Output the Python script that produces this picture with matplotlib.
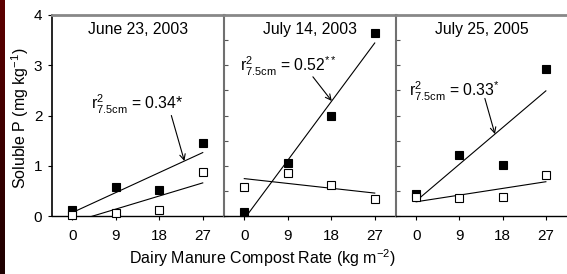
import numpy as np
import matplotlib
matplotlib.use("Agg")
import matplotlib.pyplot as plt
from matplotlib.ticker import MultipleLocator
from matplotlib.colors import LinearSegmentedColormap

plt.rcParams['font.family'] = ['Liberation Sans', 'DejaVu Sans']
plt.rcParams['mathtext.fontset'] = 'custom'
plt.rcParams['mathtext.rm'] = 'Liberation Sans'
plt.rcParams['mathtext.it'] = 'Liberation Sans'

rates = [0, 9, 18, 27]
titles = ['June 23, 2003', 'July 14, 2003', 'July 25, 2005']
filled = [[0.11, 0.58, 0.51, 1.46],
          [0.07, 1.06, 1.99, 3.65],
          [0.43, 1.21, 1.01, 2.93]]
opened = [[0.02, 0.06, 0.12, 0.87],
          [0.58, 0.86, 0.62, 0.34],
          [0.38, 0.36, 0.37, 0.82]]
r2_text = [r'r$^{2}_{7.5\mathrm{cm}}$ = 0.34*',
           r'r$^{2}_{7.5\mathrm{cm}}$ = 0.52$^{**}$',
           r'r$^{2}_{7.5\mathrm{cm}}$ = 0.33$^{*}$']
# annotation text position and arrow tail/head (data coords)
text_pos = [(3.9, 2.22), (-0.9, 2.98), (-1.5, 2.48)]
arrow_tail = [(20.5, 2.0), (14.2, 2.77), (14.3, 2.34)]
arrow_x = [23.2, 18.1, 16.4]

fig = plt.figure(figsize=(5.67, 2.74), dpi=100)

# dark red strip at left edge
strip = fig.add_axes([0, 0, 5 / 567, 1])
grad = np.linspace(0, 1, 100).reshape(-1, 1)
cm = LinearSegmentedColormap.from_list('s', ['#5e0000', '#1e0000'])
strip.imshow(grad, aspect='auto', cmap=cm)
strip.axis('off')

lefts = [52, 224, 396]
widths = [172, 172, 171]
bottom = 1 - 216 / 274
height = (216 - 15) / 274

for i in range(3):
    ax = fig.add_axes([lefts[i] / 567, bottom, widths[i] / 567, height])
    x = np.array(rates)
    yf = np.array(filled[i])
    yo = np.array(opened[i])
    pf = np.polyfit(x, yf, 1)
    po = np.polyfit(x, yo, 1)
    xx = np.array([0, 27])
    ax.plot(xx, np.polyval(pf, xx), color='black', lw=0.8)
    ax.plot(xx, np.polyval(po, xx), color='black', lw=0.8)
    ax.plot(x, yf, 's', ms=5.5, mfc='black', mec='black', mew=0.8, clip_on=False, zorder=5)
    ax.plot(x, yo, 's', ms=5.5, mfc='white', mec='black', mew=0.8, clip_on=False, zorder=5)

    ax.set_xlim(-4.2, 31.4)
    ax.set_ylim(0, 4)
    ax.set_xticks(rates)
    ax.tick_params(axis='x', direction='out', length=3, width=0.8, labelsize=11, pad=6)
    ax.spines['right'].set_visible(False)
    ax.spines['top'].set_color('#888888')
    ax.spines['top'].set_linewidth(2)
    ax.spines['bottom'].set_linewidth(1)

    if i == 0:
        ax.yaxis.set_major_locator(MultipleLocator(1))
        ax.tick_params(axis='y', direction='out', length=3, width=0.8, labelsize=11, pad=4)
        ax.spines['left'].set_linewidth(1.2)
    else:
        ax.yaxis.set_major_locator(MultipleLocator(0.5))
        ax.tick_params(axis='y', direction='in', length=3, width=0.8, labelleft=False,
                       color='#555555')
        ax.spines['left'].set_color('#707070')
        ax.spines['left'].set_linewidth(1.5)

    ax.text(0.5, 0.93, titles[i], transform=ax.transAxes, ha='center', va='center', fontsize=11.3)

    hx = arrow_x[i]
    hy = np.polyval(pf, hx)
    ax.annotate('', xy=(hx, hy), xytext=arrow_tail[i],
                arrowprops=dict(arrowstyle='->', color='black', lw=0.8,
                                shrinkA=0, shrinkB=0))
    ax.text(text_pos[i][0], text_pos[i][1], r2_text[i], ha='left', va='center', fontsize=11.3)

fig.text(20 / 567, 1 - 118 / 274, 'Soluble P (mg kg$^{-1}$)', rotation=90,
         ha='center', va='center', fontsize=11.5)
fig.text(262 / 567, 1 - 258 / 274, 'Dairy Manure Compost Rate (kg m$^{-2}$)',
         ha='center', va='center', fontsize=11.5)

fig.savefig('out.png', dpi=100)
